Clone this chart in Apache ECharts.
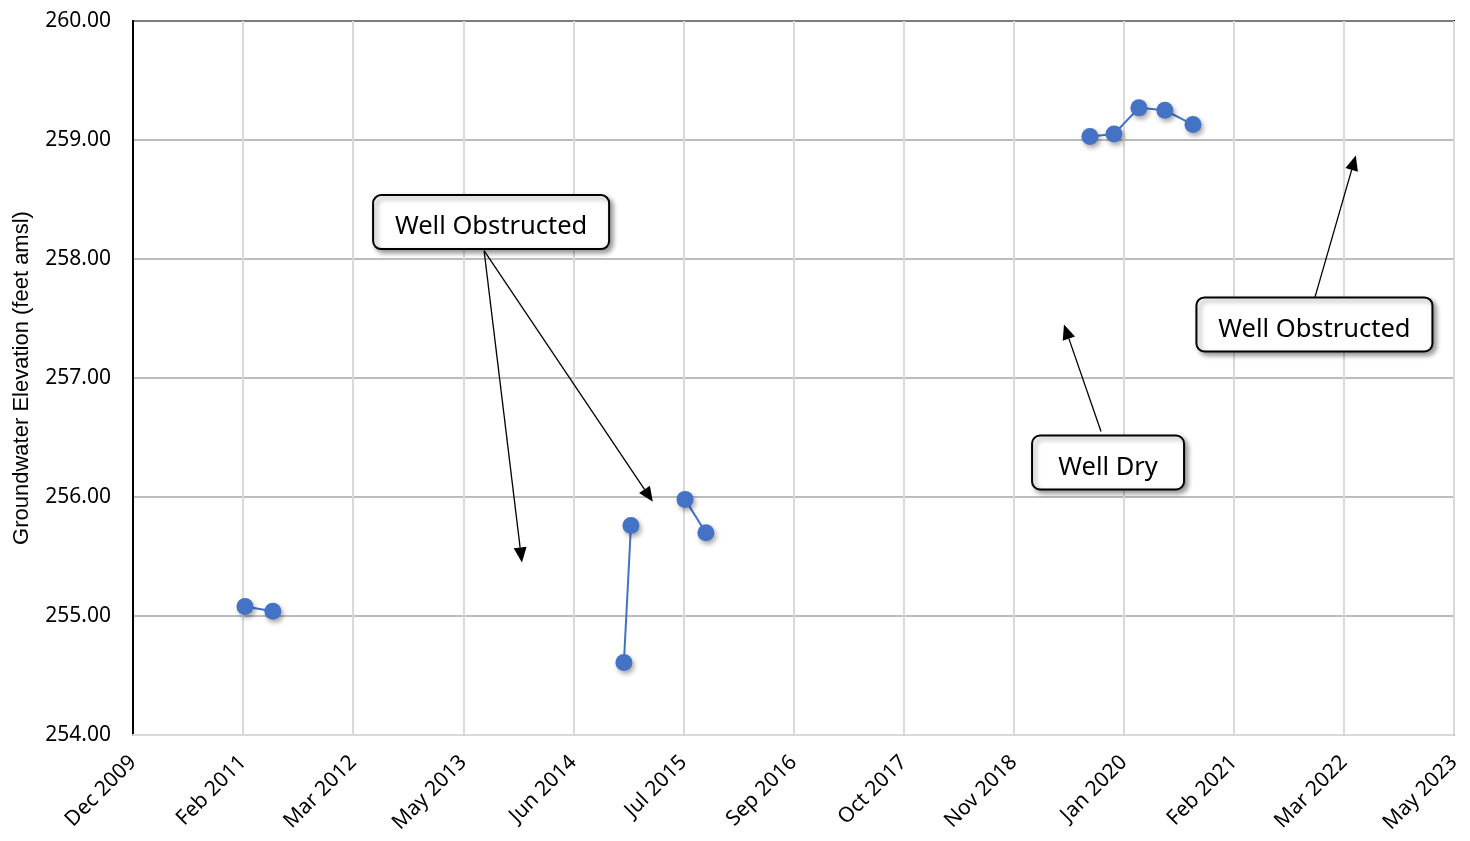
<!DOCTYPE html>
<html>
<head>
<meta charset="utf-8">
<script src="https://cdn.jsdelivr.net/npm/echarts@6/dist/echarts.min.js"></script>
<style>
html,body{margin:0;padding:0;background:#fff;}
#chart{width:1470px;height:841px;}
</style>
</head>
<body>
<div id="chart"></div>
<script>
// ---- data ----
const tickLabels = ['Dec 2009','Feb 2011','Mar 2012','May 2013','Jun 2014','Jul 2015','Sep 2016','Oct 2017','Nov 2018','Jan 2020','Feb 2021','Mar 2022','May 2023'];
const axisStart = [2009, 12, 27];   // date of first tick
const tickDays = 407;               // days between ticks
const sampleDates = ['2011-02-14','2011-05-28','2014-12-16','2015-01-11','2015-07-30','2015-10-15','2019-09-04','2019-12-02','2020-03-03','2020-06-07','2020-09-19'];
const elevations  = [255.08, 255.04, 254.61, 255.76, 255.98, 255.70, 259.03, 259.05, 259.27, 259.25, 259.13];
const segments    = [0, 0, 1, 1, 2, 2, 3, 3, 3, 3, 3];
const yMin = 254, yMax = 260, yStep = 1;

// annotations (x in days after first tick, y in feet amsl)
const callouts = [
  {text:'Well Obstructed', at:[1324, 258.31], w:236, arrows:[{from:[1298,258.07], to:[1438,255.45]},{from:[1298,258.07], to:[1922,255.96]}]},
  {text:'Well Dry', at:[3605, 256.29], w:152, arrows:[{from:[3579,256.55], to:[3442,257.45]}]},
  {text:'Well Obstructed', at:[4368, 257.45], w:236, arrows:[{from:[4370,257.68], to:[4521,258.87]}]}
];

// ---- build ----
const startMs = Date.UTC(axisStart[0], axisStart[1]-1, axisStart[2]);
function dayOffset(s){
  const p = s.split('-').map(Number);
  return (Date.UTC(p[0], p[1]-1, p[2]) - startMs) / 86400000;
}
const seriesData = [];
sampleDates.forEach((d, i) => {
  if (i > 0 && segments[i] !== segments[i-1]) seriesData.push([dayOffset(d) - 1, '-']);
  seriesData.push([dayOffset(d), elevations[i]]);
});

const FONT = '"Noto Sans", "Open Sans", sans-serif';
const chart = echarts.init(document.getElementById('chart'));
chart.setOption({
  animation: false,
  grid: {left:133, right:16, top:21, bottom:106, show:true, borderColor:'#000', borderWidth:2, backgroundColor:'#fff'},
  xAxis: {
    type:'value', min:0, max:tickDays*(tickLabels.length-1), interval:tickDays,
    axisLine:{show:true, lineStyle:{color:'#d9d9d9', width:2}},
    axisTick:{show:false},
    splitLine:{show:true, lineStyle:{color:'#d9d9d9', width:2}},
    axisLabel:{
      rotate:45, margin:24, fontFamily:FONT, fontSize:21, color:'#000',
      formatter: v => tickLabels[Math.round(v / tickDays)] || ''
    }
  },
  yAxis: {
    type:'value', min:yMin, max:yMax, interval:yStep,
    name:'Groundwater Elevation (feet amsl)', nameLocation:'middle', nameGap:100,
    nameTextStyle:{fontFamily:'"Liberation Sans", Arial, sans-serif', fontSize:22, color:'#000'},
    axisLine:{show:true, lineStyle:{color:'#000', width:2}},
    axisTick:{show:false},
    splitLine:{show:true, lineStyle:{color:'#a6a6a6', width:1.5}},
    axisLabel:{margin:22, fontFamily:FONT, fontSize:21, color:'#000', formatter: v => v.toFixed(2)}
  },
  series: [{
    type:'line', data:seriesData, connectNulls:false,
    symbol:'circle', symbolSize:17,
    lineStyle:{color:'#4472C4', width:2},
    itemStyle:{color:'#4472C4', shadowBlur:5, shadowOffsetX:2, shadowOffsetY:3, shadowColor:'rgba(0,0,0,0.35)'},
    z:5
  }]
});

// ---- callouts ----
function px(p){ return chart.convertToPixel({gridIndex:0}, p); }
const graphics = [];
const boxH = 54;
callouts.forEach(c => {
  c.arrows.forEach(a => {
    const f = px(a.from), t = px(a.to);
    const dx = t[0]-f[0], dy = t[1]-f[1], L = Math.hypot(dx, dy);
    const ux = dx/L, uy = dy/L, hl = 15, hw = 6.5;
    const bx = t[0]-ux*hl, by = t[1]-uy*hl;
    graphics.push({type:'line', z:10, shape:{x1:f[0], y1:f[1], x2:bx, y2:by}, style:{stroke:'#000', lineWidth:1.3}});
    graphics.push({type:'polygon', z:10, shape:{points:[[t[0],t[1]],[bx-uy*hw, by+ux*hw],[bx+uy*hw, by-ux*hw]]}, style:{fill:'#000'}});
  });
  const ctr = px(c.at);
  graphics.push({
    type:'rect', z:11,
    shape:{x:ctr[0]-c.w/2, y:ctr[1]-boxH/2, width:c.w, height:boxH, r:8},
    style:{fill:'#fff', stroke:'#000', lineWidth:2, shadowBlur:5, shadowOffsetX:3, shadowOffsetY:3, shadowColor:'rgba(0,0,0,0.4)'}
  });
  graphics.push({
    type:'text', z:12, x:ctr[0], y:ctr[1]+5,
    style:{text:c.text, fontFamily:FONT, fontSize:25.5, fill:'#000', align:'center', verticalAlign:'middle'}
  });
});
chart.setOption({graphic: graphics});
</script>
</body>
</html>
